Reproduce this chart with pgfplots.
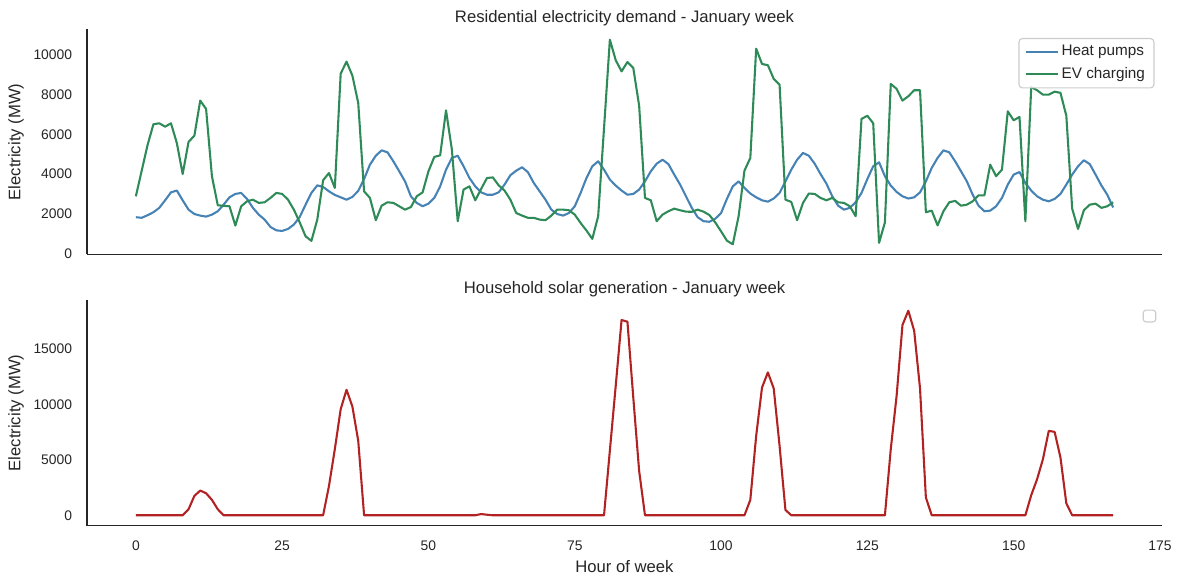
\documentclass[border=0pt]{standalone}
\usepackage{pgfplots}
\pgfplotsset{compat=1.18}
\usepackage{pgfplotstable}
\usepackage{fontspec}
\setmainfont{Liberation Sans}

\definecolor{spine}{RGB}{38,38,38}
\definecolor{heatblue}{RGB}{70,130,180}
\definecolor{evgreen}{RGB}{46,139,87}
\definecolor{solarred}{RGB}{178,34,34}
\definecolor{legedge}{RGB}{204,204,204}

% Hourly residential demand (MW): heat pumps and EV charging
\pgfplotstableread{
h hp ev
0 1830 2880
1 1800 4170
2 1930 5460
3 2080 6500
4 2300 6550
5 2680 6380
6 3080 6550
7 3170 5560
8 2680 4000
9 2210 5610
10 1990 5930
11 1910 7690
12 1860 7270
13 1960 3890
14 2130 2430
15 2460 2400
16 2830 2380
17 3000 1410
18 3050 2380
19 2750 2630
20 2300 2710
21 1960 2550
22 1710 2580
23 1340 2800
24 1170 3050
25 1140 3000
26 1240 2710
27 1460 2210
28 1840 1570
29 2460 870
30 3050 640
31 3430 1710
32 3350 3690
33 3130 4050
34 2950 3300
35 2830 9045
36 2710 9650
37 2850 8945
38 3150 7570
39 3750 3130
40 4470 2800
41 4920 1680
42 5190 2410
43 5090 2580
44 4640 2550
45 4140 2380
46 3630 2210
47 2880 2340
48 2550 2880
49 2380 3080
50 2510 4140
51 2800 4860
52 3380 4940
53 4220 7200
54 4810 5230
55 4920 1630
56 4390 3220
57 3800 3380
58 3380 2680
59 3080 3250
60 2960 3800
61 2960 3830
62 3080 3430
63 3470 3170
64 3940 2710
65 4170 2040
66 4340 1910
67 4090 1800
68 3550 1800
69 3130 1710
70 2710 1680
71 2210 1910
72 1990 2210
73 1910 2210
74 2040 2180
75 2380 1960
76 3050 1540
77 3800 1160
78 4390 740
79 4640 1880
80 4220 6300
81 3720 10750
82 3420 9720
83 3170 9160
84 2960 9630
85 3000 9330
86 3220 7440
87 3630 2800
88 4140 2680
89 4520 1630
90 4720 1960
91 4500 2130
92 3970 2260
93 3470 2180
94 2880 2110
95 2300 2100
96 1830 2210
97 1630 2110
98 1600 1940
99 1750 1570
100 2040 1120
101 2750 650
102 3380 470
103 3630 1880
104 3300 4170
105 3020 4810
106 2830 10300
107 2680 9530
108 2610 9470
109 2770 8780
110 3050 8490
111 3630 2710
112 4220 2600
113 4720 1680
114 5060 2550
115 4920 3020
116 4520 3000
117 4000 2800
118 3520 2680
119 2880 2800
120 2410 2580
121 2210 2550
122 2300 2380
123 2580 1880
124 3050 6770
125 3750 6930
126 4390 6550
127 4590 540
128 3890 1570
129 3420 8530
130 3100 8280
131 2880 7690
132 2770 7910
133 2830 8210
134 3080 8210
135 3630 2080
136 4310 2160
137 4810 1420
138 5190 2130
139 5090 2580
140 4640 2650
141 4140 2410
142 3630 2460
143 2960 2630
144 2410 2930
145 2130 2930
146 2160 4470
147 2380 3890
148 2800 4220
149 3470 7150
150 3970 6700
151 4100 6870
152 3550 1630
153 3170 8370
154 2880 8210
155 2710 7990
156 2630 7990
157 2750 8140
158 3000 8080
159 3470 6930
160 3970 2260
161 4390 1240
162 4690 2180
163 4500 2460
164 3970 2510
165 3420 2300
166 2960 2380
167 2320 2580
}\demand

% Hourly household solar generation (MW)
\pgfplotstableread{
h pv
0 0
1 0
2 0
3 0
4 0
5 0
6 0
7 0
8 0
9 540
10 1750
11 2230
12 1990
13 1390
14 540
15 0
16 0
17 0
18 0
19 0
20 0
21 0
22 0
23 0
24 0
25 0
26 0
27 0
28 0
29 0
30 0
31 0
32 0
33 2650
34 5970
35 9580
36 11330
37 9820
38 6720
39 0
40 0
41 0
42 0
43 0
44 0
45 0
46 0
47 0
48 0
49 0
50 0
51 0
52 0
53 0
54 0
55 0
56 0
57 0
58 0
59 110
60 50
61 0
62 0
63 0
64 0
65 0
66 0
67 0
68 0
69 0
70 0
71 0
72 0
73 0
74 0
75 0
76 0
77 0
78 0
79 0
80 0
81 5850
82 11690
83 17630
84 17480
85 10640
86 4010
87 0
88 0
89 0
90 0
91 0
92 0
93 0
94 0
95 0
96 0
97 0
98 0
99 0
100 0
101 0
102 0
103 0
104 0
105 1390
106 7170
107 11540
108 12900
109 11450
110 6270
111 480
112 0
113 0
114 0
115 0
116 0
117 0
118 0
119 0
120 0
121 0
122 0
123 0
124 0
125 0
126 0
127 0
128 0
129 5970
130 10790
131 17180
132 18470
133 16660
134 11450
135 1600
136 0
137 0
138 0
139 0
140 0
141 0
142 0
143 0
144 0
145 0
146 0
147 0
148 0
149 0
150 0
151 0
152 0
153 1810
154 3250
155 5060
156 7620
157 7530
158 5210
159 1080
160 0
161 0
162 0
163 0
164 0
165 0
166 0
167 0
}\solar

\pgfplotsset{
  weekpanel/.style={
    scale only axis, width=774pt, height=162pt,
    xmin=-8.35, xmax=175.35,
    axis x line*=bottom, axis y line*=left,
    axis line style={-, draw=spine, line width=1.25pt},
    major tick length=0pt,
    tick style={draw=none},
    xtick={0,25,...,175},
    scaled ticks=false,
    tick label style={font=\fontsize{10}{12}\selectfont, text=spine,
      /pgf/number format/1000 sep={},
      /pgf/number format/assume math mode=true},
    yticklabel style={anchor=east, inner sep=0pt, xshift=-10.5pt},
    xticklabel style={anchor=base, inner sep=0pt, yshift=-18pt},
    label style={font=\fontsize{12}{14}\selectfont, text=spine},
    title style={font=\fontsize{12}{14}\selectfont, text=spine,
      at={(0.5,1)}, anchor=base, yshift=-1.3pt, inner sep=0pt},
    ylabel style={at={([xshift=-51.1pt]axis description cs:0,0.5)},
      anchor=center, inner sep=0pt},
    xlabel style={at={(axis description cs:0.5,0)}, anchor=base,
      yshift=-33.5pt, inner sep=0pt},
    ylabel={Electricity (MW)},
    every axis plot/.append style={line width=1.5pt, line join=round},
    legend image code/.code={\draw[#1] (0pt,0pt) -- (22.75pt,0pt);},
    legend style={at={(1,1)}, anchor=north east, xshift=-5.4pt, yshift=-6.1pt,
      draw=legedge, line width=0.8pt, fill=white, fill opacity=0.8,
      text opacity=1, rounded corners=2.5pt,
      font=\fontsize{11}{13}\selectfont, text=spine,
      inner xsep=4.5pt, inner ysep=3pt, row sep=3pt},
    legend cell align=left,
  }
}

\begin{document}
\begin{tikzpicture}
\useasboundingbox (0,0) rectangle (851.76pt,420.48pt);

\begin{axis}[weekpanel, at={(62.64pt,237.24pt)}, anchor=south west,
  ymin=-44, ymax=11264, ytick={0,2000,...,10000},
  xticklabels={},
  title={Residential electricity demand - January week}]
\addplot[heatblue] table[x=h, y=hp] {\demand};
\addlegendentry{Heat pumps}
\addplot[evgreen] table[x=h, y=ev] {\demand};
\addlegendentry{EV charging}
\end{axis}

\begin{axis}[weekpanel, at={(62.64pt,42.12pt)}, anchor=south west,
  ymin=-923.5, ymax=19393.5, ytick={0,5000,10000,15000},
  xlabel={Hour of week},
  title={Household solar generation - January week}]
\addplot[solarred] table[x=h, y=pv] {\solar};
% empty legend frame
\node[draw=legedge, line width=0.8pt, fill=white, rounded corners=2pt,
  minimum width=9pt, minimum height=8.5pt, inner sep=0pt]
  at ([xshift=-9pt, yshift=-11.2pt]rel axis cs:1,1) {};
\end{axis}
\end{tikzpicture}
\end{document}
